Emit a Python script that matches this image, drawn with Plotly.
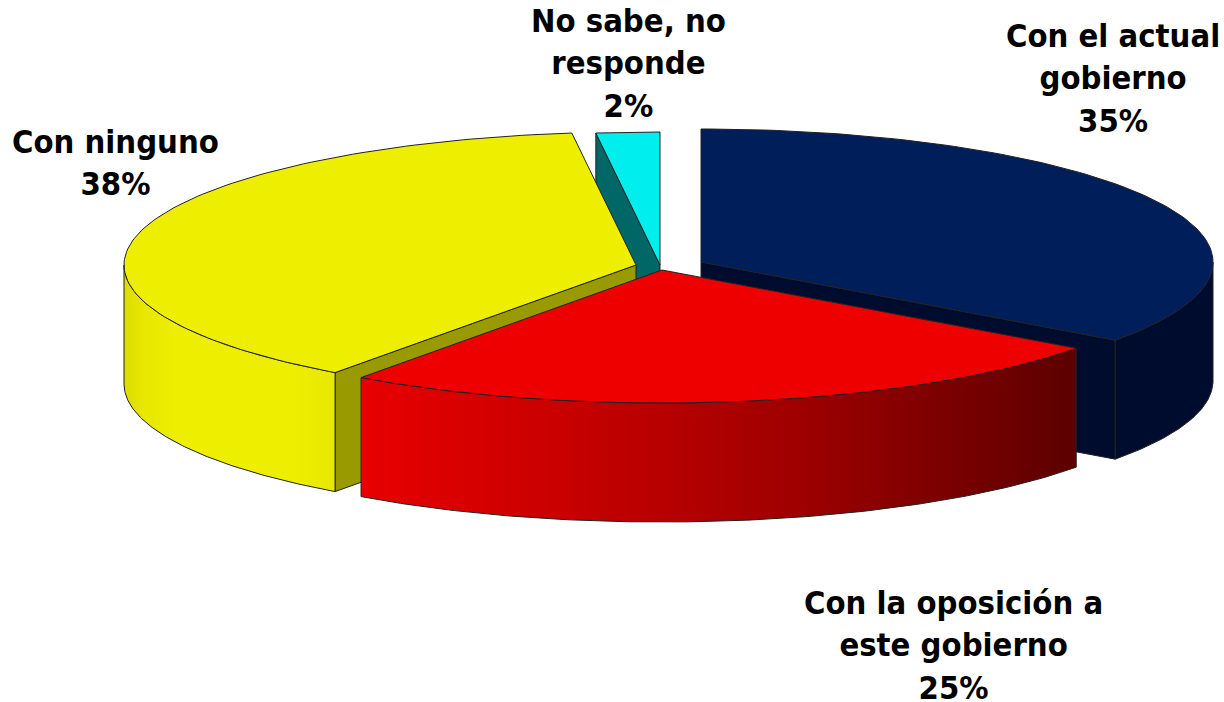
import numpy as np
import plotly.graph_objects as go

categories = ["Con el actual<br>gobierno", "Con la oposición a<br>este gobierno", "Con ninguno", "No sabe, no<br>responde"]
values = [35, 25, 38, 2]

# pie layout (pixel-like plot coordinates)
RX, RY, DEPTH = 512, 133, 119
centres = [(701, 262), (662, 270), (636, 265), (660, 265)]
top_colors = ["#001e5a", "#ee0000", "#eeee00", "#00eeee"]
cut_colors = ["#000c2e", None, "#999900", "#006666"]
label_pos = [(1113, 78), (953, 645), (115, 163), (628, 63)]
EDGE = "#222222"
FONT = "DejaVu Sans Condensed, DejaVu Sans, sans-serif"

cum = np.cumsum([0] + values) * 3.6


def rim(c, a, b, n=120):
    t = np.radians(np.linspace(a, b, n))
    return c[0] + RX * np.sin(t), c[1] - RY * np.cos(t)


def poly(x, y, color=None, grad=None, lw=1):
    x = np.r_[x, x[0]]
    y = np.r_[y, y[0]]
    kw = dict(fillgradient=grad) if grad else dict(fillcolor=color)
    return go.Scatter(x=x, y=y, mode="lines", fill="toself", hoverinfo="skip",
                      line=dict(color=EDGE, width=lw), showlegend=False, **kw)


def top(i):
    c = centres[i]
    x, y = rim(c, cum[i], cum[i + 1])
    return poly(np.r_[c[0], x], np.r_[c[1], y], top_colors[i])


def outer(i, a, b, color=None, grad=None):
    x, y = rim(centres[i], a, b)
    return poly(np.r_[x, x[::-1]], np.r_[y, y[::-1] + DEPTH], color, grad)


def cut(i, ang):
    c = centres[i]
    x, y = rim(c, ang, ang, 1)
    return poly(np.array([c[0], x[0], x[0], c[0]]),
                np.array([c[1], y[0], y[0] + DEPTH, c[1] + DEPTH]), cut_colors[i])


traces = [
    # No sabe
    cut(3, cum[3]), top(3),
    # Actual gobierno
    cut(0, cum[1]),
    outer(0, 90, cum[1], "#000c2e"),
    top(0),
    # Ninguno
    cut(2, cum[2]),
    outer(2, cum[2], 270, grad=dict(type="horizontal", colorscale=[
        [0, "#dcdc00"], [0.1, "#e8e800"], [0.25, "#eeee00"], [0.8, "#eeee00"], [1, "#e8e800"]])),
    top(2),
    # Oposición
    outer(1, cum[1], cum[2], grad=dict(type="horizontal", colorscale=[
        [0, "#e80000"], [0.3, "#c60000"], [0.6, "#a00000"], [1, "#5c0000"]])),
    top(1),
]

fig = go.Figure(traces)
for name, v, (x, y) in zip(categories, values, label_pos):
    fig.add_annotation(x=x, y=y, text=f"<b>{name}<br>{v}%</b>", showarrow=False,
                       font=dict(family=FONT, size=32.5, color="#000000"),
                       align="center", xanchor="center", yanchor="middle")

fig.update_layout(
    width=1224, height=702, margin=dict(l=0, r=0, t=0, b=0),
    paper_bgcolor="white", plot_bgcolor="white", showlegend=False,
    xaxis=dict(range=[0, 1224], visible=False, fixedrange=True),
    yaxis=dict(range=[702, 0], visible=False, fixedrange=True),
)
fig.write_html("out.html", config=dict(displayModeBar=False),
               post_script="document.body.style.margin='0';document.body.style.overflow='hidden';")
